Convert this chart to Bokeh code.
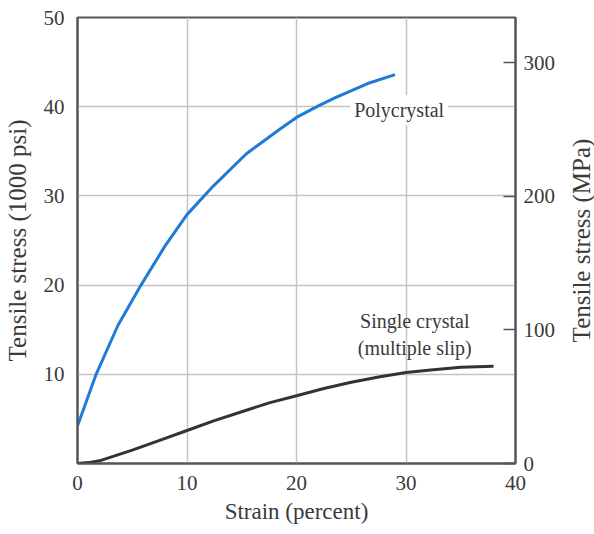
from bokeh.plotting import figure
from bokeh.layouts import row
from bokeh.models import Range1d, LinearAxis, FixedTicker, Label
from bokeh.embed import file_html
from bokeh.resources import INLINE

# Data
strain_poly = [0, 1.7, 3.7, 5.8, 8, 10, 12.4, 15.4, 18.5, 20, 22, 23.5, 26.5, 29]
stress_poly = [4.2, 10, 15.5, 20, 24.4, 27.9, 31.1, 34.7, 37.5, 38.8, 40.1, 41.0, 42.6, 43.6]

strain_single = [0, 1, 2, 5, 7.5, 10, 12.5, 15, 17.5, 20, 22.5, 25, 27.5, 30, 32.5, 35, 38]
stress_single = [0, 0.1, 0.3, 1.5, 2.6, 3.7, 4.8, 5.8, 6.8, 7.6, 8.4, 9.1, 9.7, 10.2, 10.5, 10.8, 10.9]

x_ticks = [0, 10, 20, 30, 40]
y_ticks_ksi = [10, 20, 30, 40, 50]
y_ticks_mpa = [0, 100, 200, 300]
x_grid = [10, 20, 30]
y_grid = [10, 20, 30, 40]

FONT = "Liberation Serif"
TXT = "#3a3a3a"

p = figure(width=566, height=534, output_backend="svg", toolbar_location=None,
           x_range=Range1d(0, 40), y_range=Range1d(0, 50),
           min_border_left=77, min_border_right=51, min_border_top=17, min_border_bottom=71,
           background_fill_color="white", border_fill_color="white")

p.extra_y_ranges = {"mpa": Range1d(0, 334)}

p.outline_line_color = "#555555"
p.outline_line_width = 2

# grid
p.xgrid.ticker = FixedTicker(ticks=x_grid)
p.ygrid.ticker = FixedTicker(ticks=y_grid)
p.grid.grid_line_color = "#c4c4c4"
p.grid.grid_line_width = 1.5

# bottom axis
xa = p.xaxis[0]
xa.ticker = FixedTicker(ticks=x_ticks)
xa.axis_label = "Strain (percent)"
xa.major_tick_line_color = None
xa.minor_tick_line_color = None
xa.axis_line_color = "#555555"
xa.axis_line_width = 2
xa.major_label_standoff = 6
xa.axis_label_standoff = 6
xa.axis_label_text_font_size = "23px"

# left axis
ya = p.yaxis[0]
ya.ticker = FixedTicker(ticks=y_ticks_ksi)
ya.axis_label = "Tensile stress (1000 psi)"
ya.major_tick_line_color = None
ya.minor_tick_line_color = None
ya.axis_line_color = "#555555"
ya.axis_line_width = 2
ya.major_label_standoff = 7
ya.axis_label_standoff = 10
ya.axis_label_text_font_size = "25px"

# right axis (MPa): ticks and numbers; its title is drawn in a narrow side panel
ra = LinearAxis(y_range_name="mpa", ticker=FixedTicker(ticks=y_ticks_mpa))
ra.major_tick_in = 12
ra.major_tick_out = 0
ra.major_tick_line_color = "#555555"
ra.major_tick_line_width = 1.5
ra.minor_tick_line_color = None
ra.axis_line_color = "#555555"
ra.axis_line_width = 2
ra.major_label_standoff = 8
p.add_layout(ra, "right")

for ax in [xa, ya, ra]:
    ax.major_label_text_font = FONT
    ax.major_label_text_font_size = "21px"
    ax.major_label_text_color = TXT
    ax.axis_label_text_font = FONT
    ax.axis_label_text_font_style = "normal"
    ax.axis_label_text_color = TXT

# curves
p.line(strain_poly, stress_poly, line_color="#1f7ad8", line_width=3)
p.line(strain_single, stress_single, line_color="#333333", line_width=3)

# annotations
p.add_layout(Label(x=24.9, y=39.6, text="Polycrystal", text_font=FONT, text_font_size="20px",
                   text_color=TXT, text_align="left", text_baseline="middle",
                   background_fill_color="white", padding=4))
p.add_layout(Label(x=25.8, y=16.0, text="Single crystal", text_font=FONT, text_font_size="20px",
                   text_color=TXT, text_align="left", text_baseline="middle"))
p.add_layout(Label(x=25.6, y=13.0, text="(multiple slip)", text_font=FONT, text_font_size="20px",
                   text_color=TXT, text_align="left", text_baseline="middle"))

# narrow side panel carrying the right-hand axis title (reads bottom to top)
p2 = figure(width=28, height=534, output_backend="svg", toolbar_location=None,
            x_range=Range1d(0, 1), y_range=Range1d(0, 334),
            min_border_left=26, min_border_right=0, min_border_top=17, min_border_bottom=71,
            background_fill_color="white", border_fill_color="white")
p2.outline_line_color = None
p2.xaxis.visible = False
p2.grid.visible = False
t = p2.yaxis[0]
t.ticker = FixedTicker(ticks=[])
t.axis_line_color = None
t.major_tick_line_color = None
t.minor_tick_line_color = None
t.major_label_text_font_size = "0px"
t.axis_label = "Tensile stress (MPa)"
t.axis_label_standoff = 0
t.axis_label_text_font = FONT
t.axis_label_text_font_size = "25px"
t.axis_label_text_font_style = "normal"
t.axis_label_text_color = TXT

layout = row(p, p2, spacing=0)
open("out.html", "w").write(file_html(layout, INLINE))
